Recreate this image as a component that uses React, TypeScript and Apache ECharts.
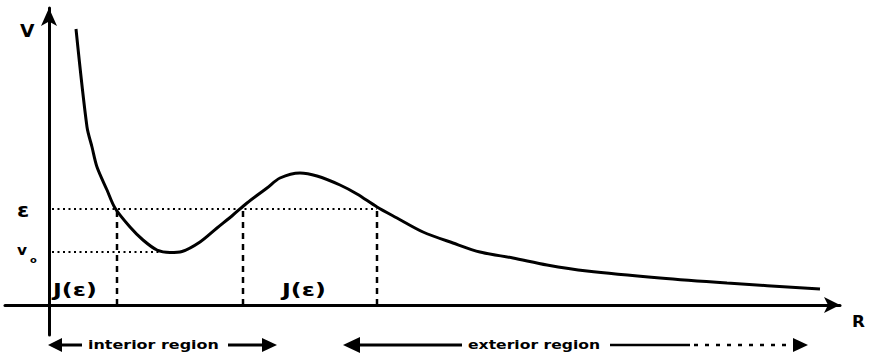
import React, { useEffect, useRef } from "react";
import * as echarts from "echarts";

// Potential curve V(R) (arbitrary units)
const curveR = [2.7, 3.8, 4.3, 4.8, 5.8, 6.6, 8.1, 9.4, 10.8, 12.1, 13.3, 15.1, 16.8, 18.4, 19.8, 21.8, 23.1, 25.1, 26.8, 29.1, 30.8, 32.8, 34.8, 37.4, 40.4, 43.1, 46.4, 49.8, 53.8, 61.1, 67.8, 77.1];
const curveV = [27.6, 17.8, 15.8, 13.8, 11.5, 9.7, 7.8, 6.5, 5.5, 5.25, 5.35, 6.3, 7.7, 9.0, 10.2, 11.7, 12.7, 13.2, 12.9, 12.0, 11.1, 9.8, 8.7, 7.3, 6.2, 5.3, 4.7, 4.0, 3.4, 2.7, 2.2, 1.6];

const epsilonLevel = 9.6;
const v0Level = 5.3;
const v0MinR = 12.1;
const turningPoints = [6.8, 19.4, 32.8];

const axisMinR = -4.4;
const axisMaxR = 79.1;
const axisMinV = -3;
const axisMaxV = 29.7;

export default function App() {
  const ref = useRef<HTMLDivElement>(null);
  useEffect(() => {
    if (!ref.current) return;
    const chart = echarts.init(ref.current, null, { renderer: "svg" });
    const font = "DejaVu Sans";
    const black = "#000";
    const verticals = turningPoints.map((r) => ({
      type: "line",
      data: [[r, 0], [r, epsilonLevel]],
      showSymbol: false,
      silent: true,
      z: 1,
      lineStyle: { color: black, width: 2.5, type: [6, 5] },
    }));
    const txt = (text: string, x: number, y: number, size: number, sx = 1) => ({
      type: "text",
      x,
      y,
      scaleX: sx,
      style: { text, font: `bold ${size}px "${font}"`, fill: black, align: "left", verticalAlign: "middle" },
    });
    chart.setOption({
      animation: false,
      grid: { left: 5, right: 33, top: 8, bottom: 24 },
      xAxis: {
        type: "value",
        min: axisMinR,
        max: axisMaxR,
        axisLine: { onZero: true, symbol: ["none", "arrow"], symbolSize: [12, 16], lineStyle: { color: black, width: 3 } },
        axisTick: { show: false },
        axisLabel: { show: false },
        splitLine: { show: false },
      },
      yAxis: {
        type: "value",
        min: axisMinV,
        max: axisMaxV,
        axisLine: { onZero: true, symbol: ["none", "arrow"], symbolSize: [12, 18], lineStyle: { color: black, width: 3 } },
        axisTick: { show: false },
        axisLabel: { show: false },
        splitLine: { show: false },
      },
      series: [
        {
          type: "line",
          data: [[0.3, epsilonLevel], [turningPoints[2], epsilonLevel]],
          showSymbol: false,
          silent: true,
          z: 1,
          lineStyle: { color: black, width: 2, type: [2, 3.5] },
        },
        {
          type: "line",
          data: [[0.3, v0Level], [v0MinR, v0Level]],
          showSymbol: false,
          silent: true,
          z: 1,
          lineStyle: { color: black, width: 2, type: [2, 3.5] },
        },
        ...verticals,
        {
          type: "line",
          data: curveR.map((r, i) => [r, curveV[i]]),
          smooth: 0.3,
          showSymbol: false,
          z: 3,
          lineStyle: { color: black, width: 3 },
        },
      ],
      graphic: [
        txt("V", 20, 31, 17, 1.1),
        txt("ε", 17, 210, 20, 1.1),
        txt("v", 17, 250, 14, 1.1),
        txt("o", 30, 260, 9, 1.1),
        txt("J(ε)", 53, 290, 17, 1.4),
        txt("J(ε)", 282, 290, 17, 1.4),
        txt("R", 852, 322, 16, 1.05),
        // interior region
        { type: "polygon", shape: { points: [[48, 345], [62, 338], [62, 352]] }, style: { fill: black } },
        { type: "line", shape: { x1: 60, y1: 345, x2: 82, y2: 345 }, style: { stroke: black, lineWidth: 3 } },
        txt("interior region", 88, 345, 12, 1.33),
        { type: "line", shape: { x1: 228, y1: 345, x2: 264, y2: 345 }, style: { stroke: black, lineWidth: 3 } },
        { type: "polygon", shape: { points: [[277, 345], [262, 338], [262, 352]] }, style: { fill: black } },
        // exterior region
        { type: "polygon", shape: { points: [[343, 345], [360, 337], [360, 353]] }, style: { fill: black } },
        { type: "line", shape: { x1: 358, y1: 345, x2: 462, y2: 345 }, style: { stroke: black, lineWidth: 3 } },
        txt("exterior region", 468, 345, 12, 1.3),
        { type: "line", shape: { x1: 610, y1: 345, x2: 690, y2: 345 }, style: { stroke: black, lineWidth: 2.5 } },
        { type: "line", shape: { x1: 694, y1: 345, x2: 794, y2: 345 }, style: { stroke: black, lineWidth: 2.5, lineDash: [4, 7] } },
        { type: "polygon", shape: { points: [[808, 345], [793, 338], [793, 352]] }, style: { fill: black } },
      ],
    });
    return () => chart.dispose();
  }, []);
  return <div ref={ref} style={{ position: "fixed", left: 0, top: 0, width: 873, height: 359, background: "#fff" }} />;
}
